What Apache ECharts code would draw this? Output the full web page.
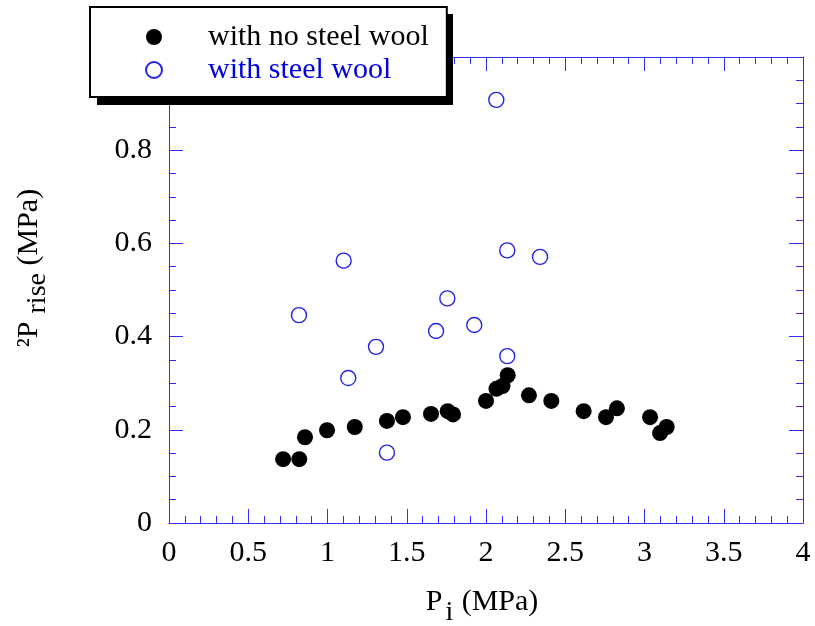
<!DOCTYPE html>
<html>
<head>
<meta charset="utf-8">
<script src="https://cdn.jsdelivr.net/npm/echarts@6/dist/echarts.min.js"></script>
<style>html,body{margin:0;padding:0;background:#fff}#c{width:815px;height:626px}</style>
</head>
<body>
<div id="c"></div>
<script>
// Data
const seriesNames = ['with no steel wool', 'with steel wool'];
const noWoolPi = [0.72, 0.822, 0.858, 0.997, 1.172, 1.375, 1.476, 1.653, 1.758, 1.792, 2.0, 2.066, 2.104, 2.137, 2.271, 2.412, 2.616, 2.757, 2.826, 3.035, 3.098, 3.140];
const noWoolRise = [0.137, 0.137, 0.184, 0.199, 0.206, 0.219, 0.227, 0.234, 0.240, 0.233, 0.262, 0.288, 0.294, 0.317, 0.274, 0.262, 0.240, 0.227, 0.246, 0.227, 0.193, 0.206];
const woolPi = [2.065, 1.102, 2.134, 2.341, 1.756, 0.820, 1.926, 1.685, 1.306, 2.134, 1.131, 1.375];
const woolRise = [0.908, 0.563, 0.585, 0.571, 0.482, 0.446, 0.425, 0.412, 0.378, 0.358, 0.311, 0.151];
const xTicks = [0, 0.5, 1, 1.5, 2, 2.5, 3, 3.5, 4];
const yTicks = [0, 0.2, 0.4, 0.6, 0.8, 1.0];

const FONT = "'Liberation Serif', 'Times New Roman', serif";
const AXIS_BLUE = '#3030ff';
const zip = (a, b) => a.map((v, i) => [v, b[i]]);

const chart = echarts.init(document.getElementById('c'));

function makeAxis(extra) {
  return Object.assign({
    type: 'value',
    axisLine: { show: true, onZero: false, lineStyle: { color: AXIS_BLUE, width: 1 } },
    axisTick: { show: true, inside: true, length: 14, lineStyle: { color: AXIS_BLUE, width: 1 } },
    minorTick: { show: true, length: 7, lineStyle: { color: AXIS_BLUE, width: 1 } },
    splitLine: { show: false },
    minorSplitLine: { show: false }
  }, extra);
}

const xMin = xTicks[0], xMax = xTicks[xTicks.length - 1], xInt = xTicks[1] - xTicks[0];
const yMin = yTicks[0], yMax = yTicks[yTicks.length - 1], yInt = yTicks[1] - yTicks[0];

chart.setOption({
  animation: false,
  backgroundColor: '#fff',
  grid: { left: 169, right: 12, top: 57, bottom: 103, containLabel: false, outerBoundsMode: 'none' },
  graphic: [
    { type: 'rect', z: 3, shape: { x: 97, y: 14, width: 356, height: 91 }, style: { fill: '#000' } }
  ],
  legend: {
    orient: 'vertical',
    left: 90,
    top: 7,
    z: 5,
    padding: [15, 18, 12, 55],
    itemGap: 3,
    itemWidth: 16,
    itemHeight: 16,
    backgroundColor: '#fff',
    borderColor: '#000',
    borderWidth: 2,
    textStyle: { fontFamily: FONT, fontSize: 30, color: '#000', padding: [0, 0, 0, 41] },
    data: [
      { name: seriesNames[0], textStyle: { color: '#000' } },
      { name: seriesNames[1], textStyle: { color: '#0000e0' } }
    ]
  },
  xAxis: [
    makeAxis({
      min: xMin, max: xMax, interval: xInt, position: 'bottom',
      minorTick: { show: true, splitNumber: 5, length: 7, lineStyle: { color: AXIS_BLUE, width: 1 } },
      axisLabel: { show: true, fontFamily: FONT, fontSize: 30, color: '#000', margin: 15 },
      name: '{m|P}{s|i}{e| (MPa)}',
      nameLocation: 'middle',
      nameGap: 55,
      nameTextStyle: {
        fontFamily: FONT, fontSize: 30, color: '#000',
        rich: {
          m: { fontFamily: FONT, fontSize: 30, color: '#000' },
          e: { fontFamily: FONT, fontSize: 30, color: '#000', padding: [0, 8, 0, 0] },
          s: { fontFamily: FONT, fontSize: 28, color: '#000', padding: [21, 1, 0, 3] }
        }
      }
    }),
    makeAxis({
      min: xMin, max: xMax, interval: xInt, position: 'top',
      minorTick: { show: true, splitNumber: 5, length: 7, lineStyle: { color: AXIS_BLUE, width: 1 } },
      axisLabel: { show: false }
    })
  ],
  yAxis: [
    makeAxis({
      min: yMin, max: yMax, interval: yInt, position: 'left',
      minorTick: { show: true, splitNumber: 4, length: 7, lineStyle: { color: AXIS_BLUE, width: 1 } },
      axisLabel: { show: true, fontFamily: FONT, fontSize: 30, color: '#000', margin: 17,
        formatter: v => (Math.abs(v) < 1e-9 ? '0' : String(Math.round(v * 10) / 10)) },
      name: '{f|²P}{s|rise}{m| (MPa)}',
      nameLocation: 'middle',
      nameRotate: 90,
      nameGap: 117,
      nameTextStyle: {
        fontFamily: FONT, fontSize: 30, color: '#000',
        rich: {
          f: { fontFamily: FONT, fontSize: 30, color: '#000', padding: [0, 0, 0, 44] },
          m: { fontFamily: FONT, fontSize: 30, color: '#000' },
          s: { fontFamily: FONT, fontSize: 28, color: '#000', padding: [17, 0, 0, 8] }
        }
      }
    }),
    makeAxis({
      min: yMin, max: yMax, interval: yInt, position: 'right',
      minorTick: { show: true, splitNumber: 4, length: 7, lineStyle: { color: AXIS_BLUE, width: 1 } },
      axisLabel: { show: false }
    })
  ],
  series: [
    {
      name: seriesNames[0],
      type: 'scatter',
      xAxisIndex: 0, yAxisIndex: 0,
      symbol: 'circle',
      symbolSize: 16,
      itemStyle: { color: '#000', opacity: 1 },
      data: zip(noWoolPi, noWoolRise)
    },
    {
      name: seriesNames[1],
      type: 'scatter',
      xAxisIndex: 0, yAxisIndex: 0,
      symbol: 'circle',
      symbolSize: 15,
      itemStyle: { color: 'rgba(255,255,255,0)', borderColor: '#2323e6', borderWidth: 1.4, opacity: 1 },
      data: zip(woolPi, woolRise)
    }
  ]
});
</script>
</body>
</html>
